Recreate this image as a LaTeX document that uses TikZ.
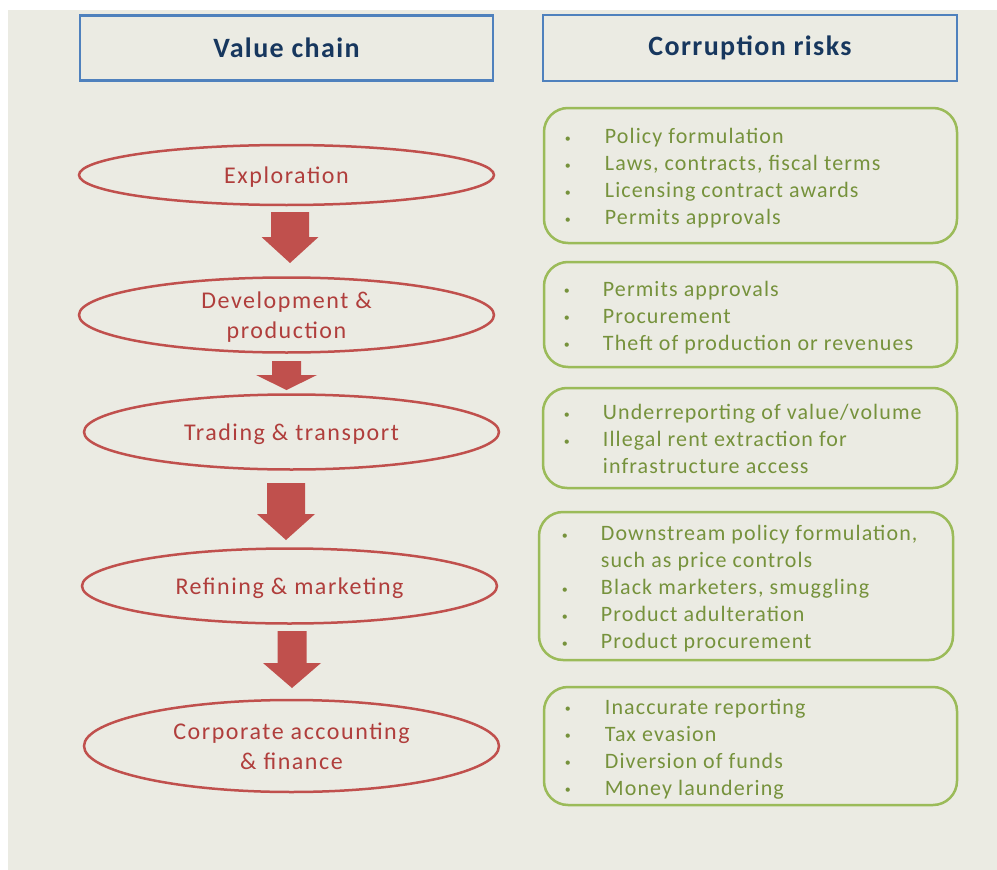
\documentclass[tikz,border=0pt]{standalone}
\usepackage{fontspec}
\setmainfont{Carlito}
\usetikzlibrary{shapes.geometric}
\definecolor{bgc}{RGB}{235,235,227}
\definecolor{hblue}{RGB}{79,129,189}
\definecolor{htext}{RGB}{23,55,94}
\definecolor{ered}{RGB}{192,80,77}
\definecolor{etext}{RGB}{176,62,60}
\definecolor{gline}{RGB}{155,187,89}
\definecolor{gtext}{RGB}{118,146,60}
\newcommand{\bul}{\raisebox{1.5pt}{\fontsize{12}{12}\selectfont\textbullet}}
\newcommand{\blockarrow}[7]{% name, x, ytop, yhead, ytip, shafthalf, headhalf
  \fill[ered] (#2-#6,#3) -- (#2+#6,#3) -- (#2+#6,#4) -- (#2+#7,#4) -- (#2,#5) coordinate (#1) -- (#2-#7,#4) -- (#2-#6,#4) -- cycle;}
\begin{document}
\begin{tikzpicture}[x=1pt,y=-1pt,
  hdr/.style={draw=hblue,line width=2.5pt,minimum width=413pt,minimum height=65pt,inner sep=0pt,
    text=htext,font=\fontsize{28}{32}\selectfont\bfseries\addfontfeature{LetterSpace=5}},
  stage/.style={ellipse,draw=ered,line width=2.5pt,minimum width=415pt,inner sep=0pt,
    text=etext,align=center,text depth=0pt,font=\fontsize{24}{30}\selectfont\addfontfeature{LetterSpace=6.5}},
  riskbox/.style={draw=gline,line width=2.5pt,rounded corners=24pt,minimum width=413pt,inner sep=0pt},
  risklist/.style={anchor=west,inner sep=0pt,yshift=-3.5pt,text=gtext,font=\fontsize{22}{27}\selectfont\addfontfeature{LetterSpace=5}}]
\useasboundingbox (0,0) rectangle (997,870);
\fill[white] (0,0) rectangle (997,870);
\fill[bgc] (8,10) rectangle (997,870);

% headers
\node[hdr] (vc) at (286.5,48) {Value chain};
\node[hdr,minimum width=414pt,minimum height=66pt] (cr) at (750,48) {Corruption risks};

% stages
\node[stage,minimum height=60pt] (s1) at (286.5,175) {Exploration};
\node[stage,minimum height=75pt] (s2) at (286.5,315) {Development \&\\production};
\node[stage,minimum height=75pt] (s3) at (291.5,432) {Trading \& transport};
\node[stage,minimum height=75pt] (s4) at (289.5,586) {Refining \& marketing};
\node[stage,minimum height=92pt] (s5) at (291.5,746) {Corporate accounting\\\& finance};

% block arrows
\blockarrow{a1}{290}{212}{237}{263}{19}{28.5}
\blockarrow{a2}{286.5}{361}{375}{390}{14.5}{30.5}
\blockarrow{a3}{286}{483}{514}{540}{19}{29}
\blockarrow{a4}{292}{631}{663}{688}{14.5}{29}

% risk boxes
\node[riskbox,minimum height=135pt] (b1) at (750.5,175.5) {};
\node[riskbox,minimum height=105pt] (b2) at (750.5,314.5) {};
\node[riskbox,minimum width=414pt,minimum height=100pt] (b3) at (750,438) {};
\node[riskbox,minimum width=414pt,minimum height=148pt] (b4) at (746,586) {};
\node[riskbox,minimum height=118pt] (b5) at (750.5,746) {};

\node[risklist] (l1) at ([xshift=22pt]b1.west) {\begin{tabular}{@{}p{40pt}@{}l@{}}
\bul & Policy formulation\\
\bul & Laws, contracts, fiscal terms\\
\bul & Licensing contract awards\\
\bul & Permits approvals
\end{tabular}};
\node[risklist] (l2) at ([xshift=21pt]b2.west) {\begin{tabular}{@{}p{39pt}@{}l@{}}
\bul & Permits approvals\\
\bul & Procurement\\
\bul & Theft of production or revenues
\end{tabular}};
\node[risklist] (l3) at ([xshift=22pt]b3.west) {\begin{tabular}{@{}p{39pt}@{}l@{}}
\bul & Underreporting of value/volume\\
\bul & Illegal rent extraction for\\
 & infrastructure access
\end{tabular}};
\node[risklist] (l4) at ([xshift=24pt]b4.west) {\begin{tabular}{@{}p{39pt}@{}l@{}}
\bul & Downstream policy formulation,\\
 & such as price controls\\
\bul & Black marketers, smuggling\\
\bul & Product adulteration\\
\bul & Product procurement
\end{tabular}};
\node[risklist] (l5) at ([xshift=22pt]b5.west) {\begin{tabular}{@{}p{40pt}@{}l@{}}
\bul & Inaccurate reporting\\
\bul & Tax evasion\\
\bul & Diversion of funds\\
\bul & Money laundering
\end{tabular}};
\end{tikzpicture}
\end{document}
